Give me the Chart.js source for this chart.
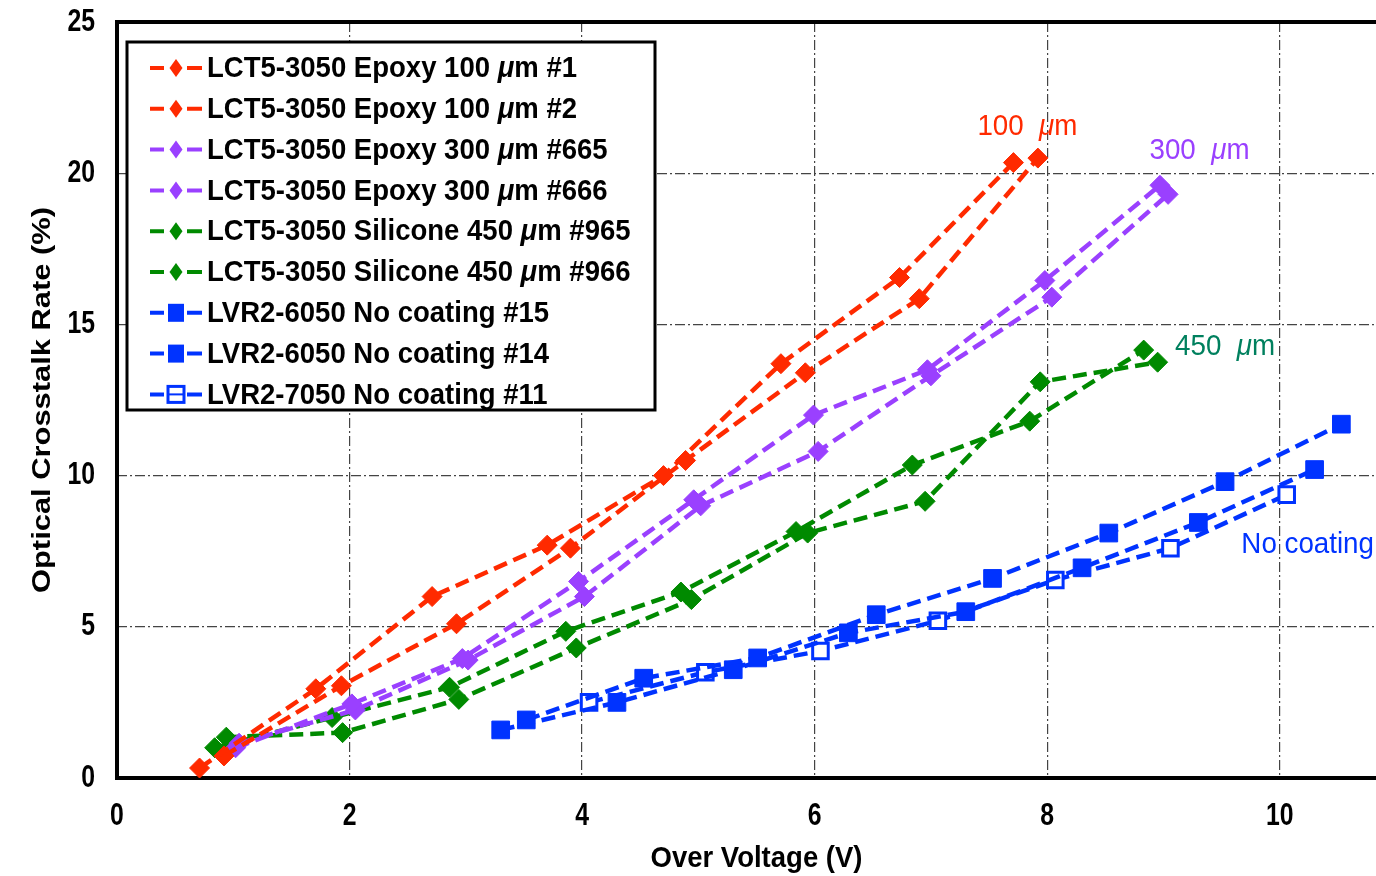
<!DOCTYPE html>
<html lang="en">
<head>
<meta charset="utf-8">
<title>Optical Crosstalk Rate vs Over Voltage</title>
<script src="https://cdn.jsdelivr.net/npm/chart.js@4.4.1/dist/chart.umd.min.js"></script>
<style>
  html, body { margin: 0; padding: 0; background: #fff; overflow: hidden; }
</style>
</head>
<body>
<canvas id="crosstalk" width="1410" height="876"></canvas>
<script>
// over voltage (V) / optical crosstalk rate (%) per device
const epoxy100_1_v  = [0.71, 1.71, 2.71, 3.70, 4.70, 5.71, 6.73, 7.71];
const epoxy100_1_ct = [0.33, 2.95, 6.00, 7.70, 10.0, 13.7, 16.55, 20.35];
const epoxy100_2_v  = [0.92, 1.93, 2.92, 3.90, 4.89, 5.92, 6.90, 7.92];
const epoxy100_2_ct = [0.73, 3.05, 5.10, 7.60, 10.5, 13.4, 15.85, 20.5];

const epoxy300_665_v  = [1.02, 2.02, 2.97, 3.97, 4.96, 5.99, 6.97, 7.98, 8.97];
const epoxy300_665_ct = [1.00, 2.45, 3.95, 6.50, 9.20, 12.0, 13.5, 16.45, 19.6];
const epoxy300_666_v  = [1.05, 2.05, 3.02, 4.02, 5.02, 6.03, 7.00, 8.04, 9.04];
const epoxy300_666_ct = [1.15, 2.25, 3.90, 6.00, 9.00, 10.8, 13.3, 15.9, 19.3];

const silicone450_965_v  = [0.84, 1.85, 2.86, 3.86, 4.85, 5.84, 6.84, 7.85, 8.83];
const silicone450_965_ct = [1.00, 2.00, 3.00, 4.85, 6.15, 8.15, 10.35, 11.8, 14.15];
const silicone450_966_v  = [0.94, 1.94, 2.94, 3.95, 4.94, 5.94, 6.95, 7.94, 8.95];
const silicone450_966_ct = [1.35, 1.50, 2.60, 4.30, 5.90, 8.10, 9.15, 13.1, 13.75];

const lvr6050_15_v  = [3.52, 4.53, 5.51, 6.53, 7.53, 8.53, 9.53, 10.53];
const lvr6050_15_ct = [1.92, 3.30, 3.97, 5.40, 6.60, 8.10, 9.80, 11.7];
const lvr6050_14_v  = [3.30, 4.30, 5.30, 6.29, 7.30, 8.30, 9.30, 10.30];
const lvr6050_14_ct = [1.59, 2.50, 3.58, 4.80, 5.50, 6.95, 8.45, 10.2];
const lvr7050_11_v  = [4.06, 5.06, 6.05, 7.06, 8.07, 9.06, 10.06];
const lvr7050_11_ct = [2.50, 3.50, 4.20, 5.20, 6.55, 7.60, 9.37];

const xTicks = [0, 2, 4, 6, 8, 10];
const yTicks = [0, 5, 10, 15, 20, 25];

const RED = '#ff2a00', PURPLE = '#9a40ff', GREEN = '#008a00', BLUE = '#0033ff';
const FAM = '"Liberation Sans", Arial, sans-serif';
const SQUEEZE = 0.8;   // condensed look for ticks and labels

// group labels written next to the curves (value coordinates)
const curveTags = [
  { num: '100', x: 7.40, y: 21.55, color: RED },
  { num: '300', x: 8.88, y: 20.75, color: PURPLE },
  { num: '450', x: 9.10, y: 14.25, color: '#00805e' },
];
const noCoatTag = { text: 'No coating', x: 9.67, y: 7.72, color: BLUE };

const pts = (xs, ys) => xs.map((x, i) => ({ x: x, y: ys[i] }));

function series(label, xs, ys, color, shape, open) {
  return {
    label: label,
    data: pts(xs, ys),
    showLine: true,
    borderColor: color,
    borderWidth: 4.5,
    borderDash: [14, 7],
    pointStyle: shape,
    pointRadius: shape === 'rect' ? (open ? 11 : 12.5) : 10,
    pointBackgroundColor: open ? '#fff' : color,
    pointBorderColor: color,
    pointBorderWidth: open ? 3 : 1,
    open: !!open
  };
}

const datasets = [
  series('LCT5-3050 Epoxy 100 μm #1', epoxy100_1_v, epoxy100_1_ct, RED, 'rectRot'),
  series('LCT5-3050 Epoxy 100 μm #2', epoxy100_2_v, epoxy100_2_ct, RED, 'rectRot'),
  series('LCT5-3050 Epoxy 300 μm #665', epoxy300_665_v, epoxy300_665_ct, PURPLE, 'rectRot'),
  series('LCT5-3050 Epoxy 300 μm #666', epoxy300_666_v, epoxy300_666_ct, PURPLE, 'rectRot'),
  series('LCT5-3050 Silicone 450 μm #965', silicone450_965_v, silicone450_965_ct, GREEN, 'rectRot'),
  series('LCT5-3050 Silicone 450 μm #966', silicone450_966_v, silicone450_966_ct, GREEN, 'rectRot'),
  series('LVR2-6050 No coating #15', lvr6050_15_v, lvr6050_15_ct, BLUE, 'rect'),
  series('LVR2-6050 No coating #14', lvr6050_14_v, lvr6050_14_ct, BLUE, 'rect'),
  series('LVR2-7050 No coating #11', lvr7050_11_v, lvr7050_11_ct, BLUE, 'rect', true),
];

// text with an italic "μ", squeezed horizontally by sx
function richParts(str) {
  const i = str.indexOf('μ');
  if (i < 0) return [[str, false]];
  return [[str.slice(0, i), false], ['μ', true], [str.slice(i + 1), false]];
}
function richWidth(ctx, parts, weight, size) {
  let w = 0;
  parts.forEach(p => {
    ctx.font = (p[1] ? 'italic ' : '') + weight + ' ' + size + 'px ' + FAM;
    w += ctx.measureText(p[0]).width;
  });
  return w;
}
function drawRich(ctx, parts, x, y, weight, size, sx) {
  ctx.save();
  ctx.translate(x, y);
  ctx.scale(sx, 1);
  let cx = 0;
  parts.forEach(p => {
    ctx.font = (p[1] ? 'italic ' : '') + weight + ' ' + size + 'px ' + FAM;
    ctx.fillText(p[0], cx, 0);
    cx += ctx.measureText(p[0]).width;
  });
  ctx.restore();
}

function legendMarker(ctx, ds, x, y) {
  ctx.save();
  ctx.strokeStyle = ds.borderColor;
  ctx.lineWidth = 4;
  ctx.beginPath();
  ctx.moveTo(x - 26, y); ctx.lineTo(x - 12, y);
  ctx.moveTo(x + 11, y); ctx.lineTo(x + 26, y);
  ctx.stroke();
  ctx.fillStyle = ds.borderColor;
  ctx.beginPath();
  if (ds.pointStyle === 'rectRot') {
    ctx.moveTo(x, y - 9); ctx.lineTo(x + 6.5, y); ctx.lineTo(x, y + 9); ctx.lineTo(x - 6.5, y);
    ctx.closePath();
    ctx.fill();
  } else if (ds.open) {
    ctx.lineWidth = 3;
    ctx.strokeRect(x - 8, y - 8, 16, 16);
    ctx.lineWidth = 2;
    ctx.beginPath(); ctx.moveTo(x - 7, y); ctx.lineTo(x + 7, y); ctx.stroke();
  } else {
    ctx.fillRect(x - 8, y - 9, 16, 18);
  }
  ctx.restore();
}

const decor = {
  id: 'decor',
  beforeDatasetsDraw(chart) {
    const { ctx, chartArea: a, scales } = chart;
    ctx.save();
    ctx.lineWidth = 4;
    ctx.strokeStyle = '#000';
    ctx.strokeRect(a.left, a.top, a.right - a.left, a.bottom - a.top);

    // tick labels, condensed bold
    ctx.fillStyle = '#000';
    ctx.textBaseline = 'middle';
    ctx.font = 'bold 31px ' + FAM;
    scales.y.ticks.forEach(t => {
      const s = String(t.value);
      const w = ctx.measureText(s).width * SQUEEZE;
      ctx.save();
      ctx.translate(a.left - 22 - w, scales.y.getPixelForValue(t.value));
      ctx.scale(SQUEEZE, 1);
      ctx.fillText(s, 0, 0);
      ctx.restore();
    });
    scales.x.ticks.forEach(t => {
      const s = String(t.value);
      const w = ctx.measureText(s).width * SQUEEZE;
      ctx.save();
      ctx.translate(scales.x.getPixelForValue(t.value) - w / 2, a.bottom + 38);
      ctx.scale(SQUEEZE, 1);
      ctx.fillText(s, 0, 0);
      ctx.restore();
    });
    ctx.restore();
  },
  afterDatasetsDraw(chart) {
    const { ctx, chartArea: a, scales } = chart;
    const xs = scales.x, ys = scales.y;
    ctx.save();
    ctx.textBaseline = 'middle';
    ctx.textAlign = 'left';

    // legend box
    const bx = a.left + 10, by = a.top + 20, bw = 528, bh = 368;
    ctx.fillStyle = '#fff';
    ctx.fillRect(bx, by, bw, bh);
    ctx.lineWidth = 3;
    ctx.strokeStyle = '#000';
    ctx.strokeRect(bx, by, bw, bh);
    const legSize = 30;
    const w0 = richWidth(ctx, richParts(datasets[0].label), 'bold', legSize);
    const legSx = 370 / w0;
    datasets.forEach((ds, i) => {
      const ry = by + 26 + i * 40.8;
      legendMarker(ctx, ds, bx + 49, ry);
      ctx.fillStyle = '#000';
      drawRich(ctx, richParts(ds.label), bx + 80, ry + 1, 'bold', legSize, legSx);
    });

    // group tags beside the curves
    const tagSize = 30;
    const tw = richWidth(ctx, richParts('100  μm'), 'normal', tagSize);
    const tagSx = 100 / tw;
    curveTags.forEach(t => {
      ctx.fillStyle = t.color;
      drawRich(ctx, richParts(t.num + '  μm'), xs.getPixelForValue(t.x), ys.getPixelForValue(t.y),
        'normal', tagSize, tagSx);
    });
    ctx.fillStyle = noCoatTag.color;
    drawRich(ctx, [[noCoatTag.text, false]], xs.getPixelForValue(noCoatTag.x), ys.getPixelForValue(noCoatTag.y),
      'normal', tagSize, tagSx);

    // axis titles
    ctx.fillStyle = '#000';
    const xt = [['Over Voltage (V)', false]];
    const xw = richWidth(ctx, xt, 'bold', 30);
    drawRich(ctx, xt, (a.left + a.right) / 2 - 106, 859, 'bold', 30, 212 / xw);

    const yt = [['Optical Crosstalk Rate (%)', false]];
    const yw = richWidth(ctx, yt, 'bold', 26);
    ctx.save();
    ctx.translate(43, (a.top + a.bottom) / 2);
    ctx.rotate(-Math.PI / 2);
    drawRich(ctx, yt, -193, 0, 'bold', 26, 386 / yw);
    ctx.restore();

    ctx.restore();
  }
};

Chart.defaults.font.family = FAM;
Chart.defaults.color = '#000';

const keepTicks = list => scale => {
  scale.ticks = list.map(v => ({ value: v }));
};

new Chart(document.getElementById('crosstalk'), {
  type: 'scatter',
  data: { datasets: datasets },
  options: {
    responsive: false,
    animation: false,
    layout: { padding: { top: 22, right: 10, left: 0, bottom: 0 } },
    plugins: { legend: { display: false }, tooltip: { enabled: false } },
    scales: {
      x: {
        type: 'linear',
        min: 0, max: 11,
        afterBuildTicks: keepTicks(xTicks),
        afterFit: s => { s.height = 98; s.paddingLeft = 0; s.paddingRight = 0; },
        grid: { color: '#444', lineWidth: 1.2, drawTicks: false, borderDash: [10, 3, 2, 3] },
        border: { display: false, dash: [10, 3, 2, 3] },
        ticks: { display: false }
      },
      y: {
        type: 'linear',
        min: 0, max: 25,
        afterBuildTicks: keepTicks(yTicks),
        afterFit: s => { s.width = 117; s.paddingTop = 0; s.paddingBottom = 0; },
        grid: { color: '#444', lineWidth: 1.2, drawTicks: false, borderDash: [10, 3, 2, 3] },
        border: { display: false, dash: [10, 3, 2, 3] },
        ticks: { display: false }
      }
    }
  },
  plugins: [decor]
});
</script>
</body>
</html>
